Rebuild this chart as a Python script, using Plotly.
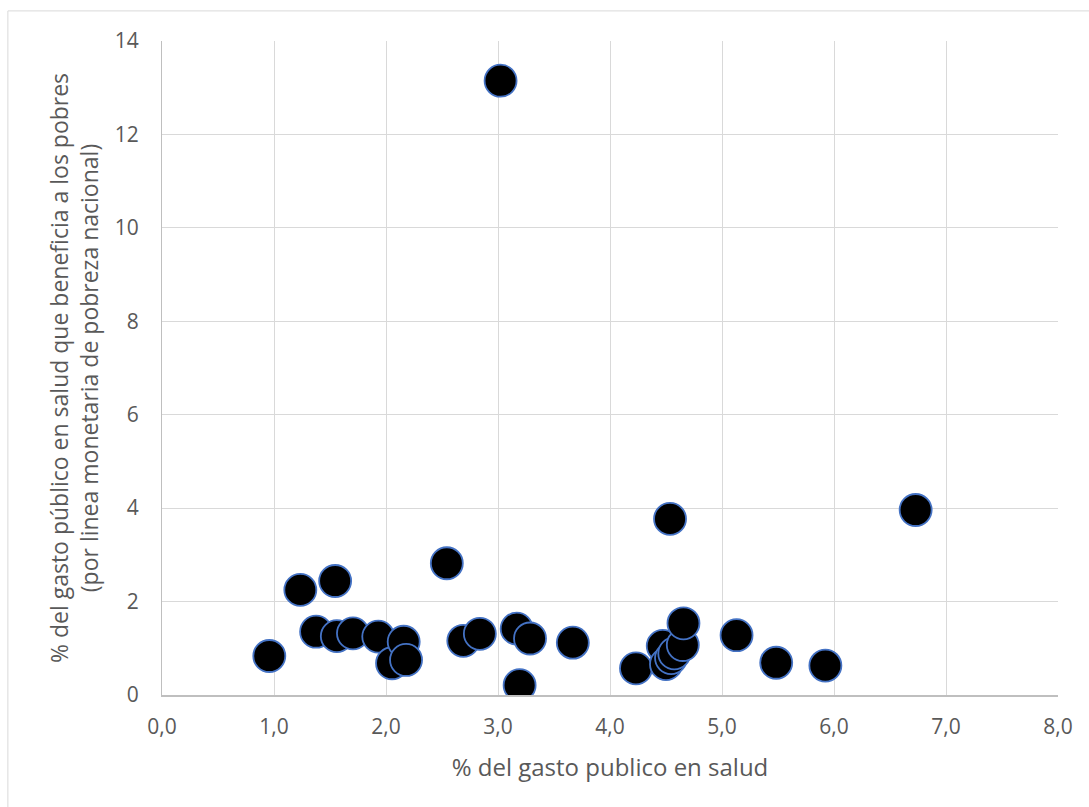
import plotly.graph_objects as go

# Health spending share vs. share benefiting the poor
gasto_salud = [0.958, 1.235, 1.546, 1.376, 1.561, 1.705, 1.931, 2.054, 2.158, 2.179,
               2.543, 2.69, 2.838, 3.167, 3.286, 3.193, 3.668, 3.023,
               4.232, 4.471, 4.50, 4.545, 4.574, 4.65, 4.656, 4.536,
               5.13, 5.484, 5.923, 6.729]
beneficio_pobres = [0.835, 2.25, 2.44, 1.355, 1.26, 1.32, 1.25, 0.68, 1.14, 0.75,
                    2.82, 1.16, 1.31, 1.42, 1.21, 0.21, 1.12, 13.15,
                    0.57, 1.05, 0.66, 0.79, 0.89, 1.07, 1.535, 3.77,
                    1.28, 0.69, 0.63, 3.96]

x_ticks = [0, 1, 2, 3, 4, 5, 6, 7, 8]
y_ticks = [0, 2, 4, 6, 8, 10, 12, 14]

fig = go.Figure()
fig.add_trace(go.Scatter(
    x=gasto_salud, y=beneficio_pobres, mode="markers",
    marker=dict(size=32, color="#000000", line=dict(color="#4472C4", width=1.8)),
    hoverinfo="x+y",
))

axis_font = dict(family="Open Sans, Liberation Sans, sans-serif", size=21, color="#595959")
xtitle_font = dict(family="Open Sans, Liberation Sans, sans-serif", size=24, color="#595959")
ytitle_font = dict(family="Open Sans, Liberation Sans, sans-serif", size=23, color="#595959")

fig.update_layout(
    width=1089, height=807,
    margin=dict(l=162, r=31, t=41, b=112),
    paper_bgcolor="white", plot_bgcolor="white",
    separators=",.",
    showlegend=False,
    xaxis=dict(
        range=[0, 8], tickvals=x_ticks, tickformat=".1f",
        showgrid=True, gridcolor="#d9d9d9", gridwidth=1,
        showline=True, linecolor="#bfbfbf", linewidth=1.5,
        zeroline=False, ticks="", tickfont=axis_font, ticklabelstandoff=12,
        title=dict(text="% del gasto publico en salud", font=xtitle_font, standoff=20),
    ),
    yaxis=dict(
        range=[0, 14], tickvals=y_ticks,
        showgrid=True, gridcolor="#d9d9d9", gridwidth=1,
        showline=True, linecolor="#bfbfbf", linewidth=1,
        zeroline=False, ticks="", tickfont=axis_font, ticklabelstandoff=18,
        title=dict(text="% del gasto público en salud que beneficia a los pobres<br>(por linea monetaria de pobreza nacional)",
                   font=ytitle_font, standoff=9),
    ),
    shapes=[dict(type="rect", xref="paper", yref="paper",
                 x0=-0.172, x1=1.2, y0=-0.3, y1=1.046,
                 line=dict(color="#d9d9d9", width=1), layer="below")],
)

fig.write_html("out.html")
